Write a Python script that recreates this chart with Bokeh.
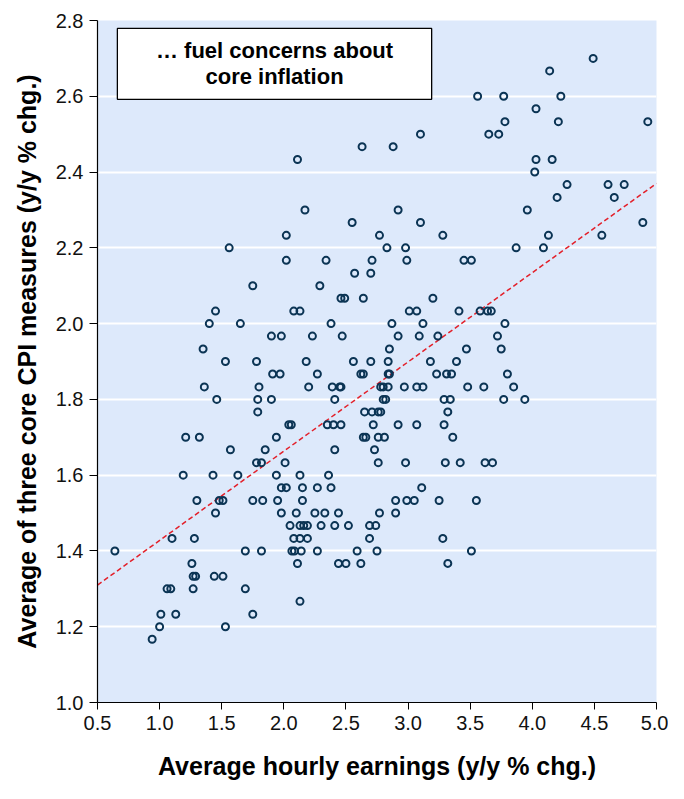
from bokeh.plotting import figure
from bokeh.models import Range1d, FixedTicker, PrintfTickFormatter, BoxAnnotation, Label, ColumnDataSource
from bokeh.embed import file_html
from bokeh.resources import INLINE

# ---- data ----
cpi_levels = [2.700, 2.667, 2.600, 2.567, 2.533, 2.500, 2.467, 2.433, 2.400, 2.367,
              2.333, 2.300, 2.267, 2.233, 2.200, 2.167, 2.133, 2.100, 2.067, 2.033,
              2.000, 1.967, 1.933, 1.900, 1.867, 1.833, 1.800, 1.767, 1.733, 1.700,
              1.667, 1.633, 1.600, 1.567, 1.533, 1.500, 1.467, 1.433, 1.400, 1.367,
              1.333, 1.300, 1.267, 1.233, 1.200, 1.167]
ahe_by_level = [
    [4.49], [4.14], [3.56, 3.77, 4.23], [4.03], [3.78, 4.21, 4.93],
    [3.10, 3.65, 3.73], [2.63, 2.88], [2.11, 4.03, 4.16], [4.02], [4.28, 4.61, 4.74],
    [4.20, 4.66], [2.17, 2.92, 3.96], [2.55, 3.10, 4.89], [2.02, 2.77, 3.28, 4.13, 4.56],
    [1.56, 2.83, 2.98, 3.87, 4.09], [2.02, 2.34, 2.71, 2.99, 3.45, 3.51], [2.57, 2.70],
    [1.75, 2.29], [2.46, 2.49, 2.64, 3.20],
    [1.45, 2.08, 2.13, 3.01, 3.07, 3.41, 3.58, 3.64, 3.67],
    [1.40, 1.65, 2.38, 2.87, 3.12, 3.78],
    [1.90, 1.98, 2.23, 2.47, 2.92, 3.09, 3.24, 3.72],
    [1.35, 2.85, 3.47, 3.75],
    [1.53, 1.78, 2.18, 2.56, 2.70, 2.84, 3.18, 3.39],
    [1.91, 1.97, 2.27, 2.62, 2.64, 2.84, 2.85, 3.23, 3.31, 3.35, 3.80],
    [1.36, 1.80, 2.20, 2.39, 2.45, 2.46, 2.78, 2.80, 2.84, 2.97, 3.07, 3.12, 3.48, 3.61, 3.85],
    [1.46, 1.79, 1.90, 2.41, 2.80, 2.82, 3.29, 3.34, 3.77, 3.94],
    [1.79, 2.65, 2.71, 2.76, 2.78, 3.32],
    [2.04, 2.06, 2.35, 2.40, 2.46, 2.72, 2.92, 3.07, 3.29],
    [1.21, 1.32, 1.94, 2.64, 2.66, 2.76, 2.81, 3.36],
    [1.57, 1.85, 2.41, 2.73],
    [1.78, 1.82, 2.01, 2.76, 2.98, 3.30, 3.42, 3.62, 3.68],
    [1.19, 1.43, 1.63, 1.94, 2.13, 2.36],
    [1.98, 2.02, 2.15, 2.27, 2.38, 3.11],
    [1.30, 1.48, 1.51, 1.75, 1.83, 1.95, 2.15, 2.90, 2.99, 3.05, 3.25, 3.55],
    [1.45, 1.98, 2.10, 2.25, 2.33, 2.44, 2.77, 2.90],
    [2.05, 2.13, 2.16, 2.19, 2.30, 2.41, 2.52, 2.69, 2.74],
    [1.10, 1.28, 2.08, 2.13, 2.19, 2.69, 3.28],
    [0.64, 1.69, 1.82, 2.065, 2.085, 2.14, 2.27, 2.59, 2.75, 3.51],
    [1.26, 2.11, 2.44, 2.50, 2.62, 3.32],
    [1.27, 1.29, 1.44, 1.51],
    [1.06, 1.09, 1.27, 1.69],
    [2.13],
    [1.01, 1.13, 1.75],
    [1.00, 1.53],
    [0.94],
]
trend_x = [0.5, 5.0]
trend_y = [1.31, 2.37]
x_ticks = [0.5, 1.0, 1.5, 2.0, 2.5, 3.0, 3.5, 4.0, 4.5, 5.0]
y_ticks = [1.0, 1.2, 1.4, 1.6, 1.8, 2.0, 2.2, 2.4, 2.6, 2.8]
title_lines = ["\u2026 fuel concerns about", "core inflation"]
x_title = "Average hourly earnings (y/y % chg.)"
y_title = "Average of three core CPI measures (y/y % chg.)"

xs, ys = [], []
for lvl, row in zip(cpi_levels, ahe_by_level):
    for v in row:
        xs.append(v)
        ys.append(lvl)
src = ColumnDataSource(dict(x=xs, y=ys))

FONT = "Liberation Sans, Arial, sans-serif"

p = figure(width=668, height=783, output_backend="svg", toolbar_location=None,
           x_range=Range1d(0.5, 5.0), y_range=Range1d(1.0, 2.8),
           min_border_left=97, min_border_right=12, min_border_top=20, min_border_bottom=81)
p.background_fill_color = "#dde9fb"
p.border_fill_color = "white"
p.outline_line_color = None

p.xgrid.grid_line_color = None
p.ygrid.grid_line_color = "white"
p.ygrid.grid_line_width = 2
p.ygrid.ticker = FixedTicker(ticks=y_ticks)

for ax in (p.xaxis[0], p.yaxis[0]):
    ax.axis_line_color = "black"
    ax.axis_line_width = 1.2
    ax.major_tick_line_color = "black"
    ax.major_tick_in = 0
    ax.minor_tick_line_color = None
    ax.major_label_text_font = FONT
    ax.major_label_text_font_size = "20px"
    ax.major_label_text_color = "#111111"
    ax.axis_label_text_font = FONT
    ax.axis_label_text_font_size = "25px"
    ax.axis_label_text_font_style = "bold"
    ax.axis_label_text_color = "black"
    ax.formatter = PrintfTickFormatter(format="%.1f")

p.xaxis[0].ticker = FixedTicker(ticks=x_ticks)
p.yaxis[0].ticker = FixedTicker(ticks=y_ticks)
p.xaxis[0].major_tick_out = 7
p.yaxis[0].major_tick_out = 8
p.xaxis[0].major_label_standoff = 6
p.yaxis[0].major_label_standoff = 6
p.xaxis[0].axis_label = x_title
p.yaxis[0].axis_label = y_title
p.xaxis[0].axis_label_standoff = 19
p.yaxis[0].axis_label_standoff = 12

p.line(trend_x, trend_y, line_color="#e3202a", line_width=1.5, line_dash="5 3")
p.scatter("x", "y", source=src, marker="circle", size=7, fill_color=None,
          line_color="#0b3454", line_width=2.0)

box = BoxAnnotation(left=0.66, right=3.19, top=2.779, bottom=2.592,
                    fill_color="white", fill_alpha=1.0, line_color="black",
                    line_alpha=1.0, line_width=1.3)
p.add_layout(box)
for txt, yy in zip(title_lines, [2.722, 2.651]):
    p.add_layout(Label(x=1.925, y=yy, text=txt, text_align="center", text_baseline="middle",
                       text_font=FONT, text_font_size="22px", text_font_style="bold",
                       text_color="black"))

open("out.html", "w").write(file_html(p, INLINE))
